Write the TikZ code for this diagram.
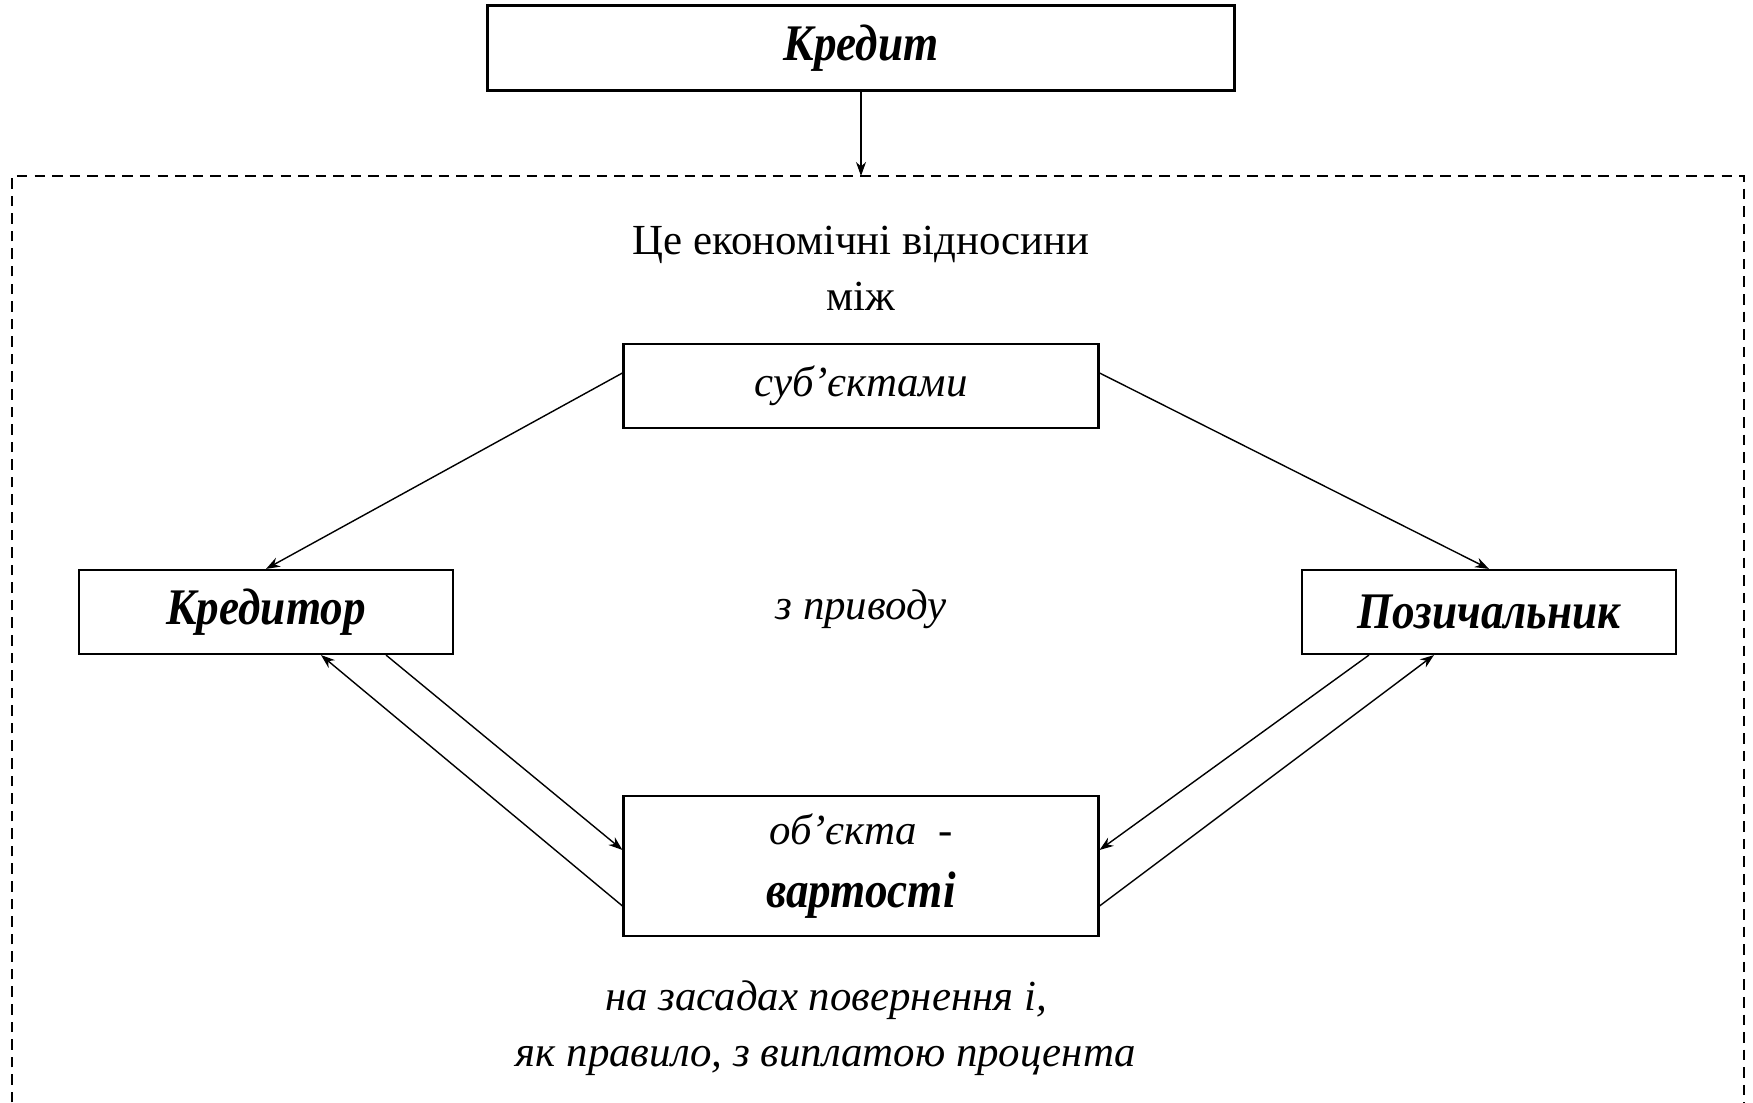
\documentclass[tikz,border=0pt]{standalone}
\usepackage{fontspec}
\setmainfont{Liberation Serif}
\newfontfamily\narrowbi[FakeStretch=0.88]{Liberation Serif Bold Italic}
\usetikzlibrary{arrows.meta}
\newcommand{\lf}{\fontsize{12.2}{16}\selectfont}
\newcommand{\hf}{\fontsize{14.6}{14}\selectfont\narrowbi}

\begin{document}
\begin{tikzpicture}[
  x=0.1mm, y=-0.1mm,
  >={Stealth[length=1.4mm, width=1mm]},
  box/.style={draw, semithick, align=center, inner sep=0pt, minimum height=8.4mm, minimum width=47.5mm},
  side/.style={box, minimum width=37.4mm, font=\hf},
  lbl/.style={font=\lf, align=center, inner sep=1pt},
  flow/.style={->, thin},
  frame/.style={densely dashed, thin},
]
  \useasboundingbox (0,0) rectangle (1753,1103);

  \node[box, minimum width=74.7mm, minimum height=8.5mm, font=\hf] (credit) at (861,48) {Кредит};

  % dashed frame, its lower edge lies below the page
  \coordinate (ftop) at (861,176);
  \draw[frame] (12,1120) -- (12,176) -- (1744,176) -- (1744,1120);

  \node[lbl] (def) at (861,268) {Це економічні відносини\\між};
  \node[box, font=\lf\itshape] (subj) at (861,386) {суб’єктами};
  \node[side] (kred) at (266,612) {Кредитор};
  \node[side] (pozy) at (1489,612) {Позичальник};
  \node[lbl, font=\lf\itshape] (about) at (861,609) {з приводу};
  \node[box, minimum height=14mm, font=\lf] (obj) at (861,866) {{\itshape об’єкта\ \ -}\\[2pt]{\hf вартості}};
  \node[lbl, font=\lf\itshape] (terms) at (826,1028) {на засадах повернення і,\\як правило, з виплатою процента};

  \draw[flow] (credit) -- (ftop);
  \draw[flow] ([yshift=1.3mm]subj.west) -- (kred.north);
  \draw[flow] ([yshift=1.3mm]subj.east) -- (pozy.north);

  % value goes out and comes back
  \draw[flow] ([xshift=12mm]kred.south) -- ([yshift=1.6mm]obj.west);
  \draw[flow] ([yshift=-4mm]obj.west) -- ([xshift=5.5mm]kred.south);
  \draw[flow] ([xshift=-12mm]pozy.south) -- ([yshift=1.6mm]obj.east);
  \draw[flow] ([yshift=-4mm]obj.east) -- ([xshift=-5.5mm]pozy.south);
\end{tikzpicture}
\end{document}
